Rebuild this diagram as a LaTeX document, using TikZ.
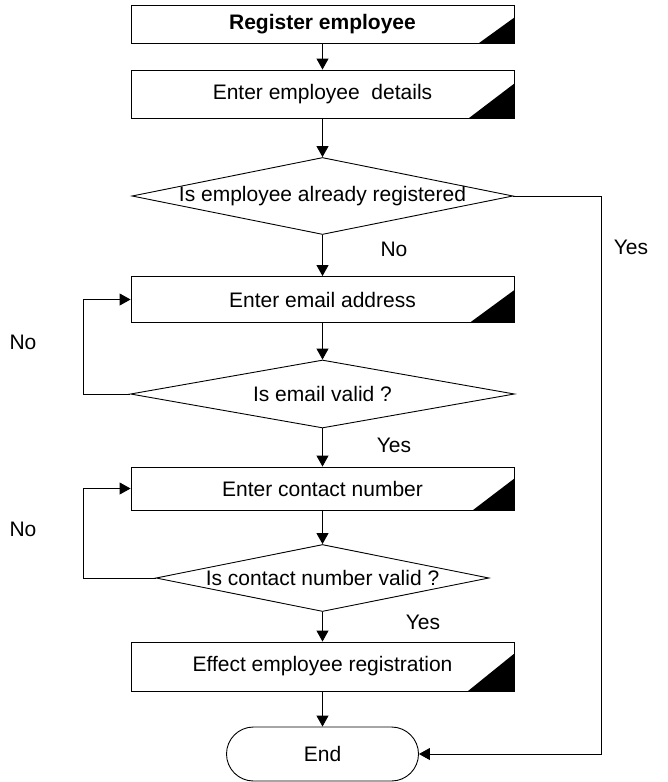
\documentclass[tikz,border=0pt]{standalone}
\usepackage{fontspec}
\setmainfont{Liberation Sans}
\usetikzlibrary{arrows.meta,shapes.geometric}

\begin{document}
\begin{tikzpicture}[x=1pt,y=-1pt,font=\fontsize{21}{25}\selectfont,>={Triangle[width=12pt,length=11pt]},line width=0.9pt,
  box/.style={draw,rectangle,minimum width=383pt,inner sep=0pt},
  dec/.style={draw,diamond,inner sep=0pt},
  term/.style={draw,rectangle,rounded corners=27pt,minimum width=192pt,minimum height=54pt}]
\useasboundingbox (0,0) rectangle (667,782);
% process steps
\node[box,minimum height=38pt,font=\fontsize{21}{25}\selectfont\bfseries] (reg) at (322.5,24) {Register employee};
\node[box,minimum height=48pt] (det) at (322.5,94) {Enter employee\ \ details};
\node[dec,minimum width=381pt,minimum height=77pt,label=center:{Is employee already registered}] (q1) at (322.5,196) {};
\node[box,minimum height=46pt] (email) at (322.5,299.5) {Enter email address};
\node[dec,minimum width=384pt,minimum height=68pt,label=center:{Is email valid ?}] (q2) at (322.5,394) {};
\node[box,minimum height=43pt] (contact) at (322.5,488.5) {Enter contact number};
\node[dec,minimum width=333pt,minimum height=67pt,label=center:{Is contact number valid ?}] (q3) at (322.5,578) {};
\node[box,minimum height=49pt] (eff) at (322.5,666.5) {Effect employee registration};
\node[term] (endn) at (322.5,754) {End};
% black corners
\foreach \n/\w/\h in {reg/36/26,det/46/35,email/45/33,contact/42/32,eff/47/38}
  \fill ([xshift=-\w pt]\n.south east) -- (\n.south east) -- ([yshift=\h pt]\n.south east) -- cycle;
% flow
\coordinate (lx) at (83,0);
\coordinate (rx) at (601,0);
\draw[->] (reg) -- (det);
\draw[->] (det) -- (q1);
\draw[->] (q1) -- (email);
\draw[->] (email) -- (q2);
\draw[->] (q2) -- (contact);
\draw[->] (contact) -- (q3);
\draw[->] (q3) -- (eff);
\draw[->] (eff) -- (endn);
\draw[->] (q2.west) -- (q2.west -| lx) |- (email.west);
\draw[->] (q3.west) -- (q3.west -| lx) |- (contact.west);
\draw[->] (q1.east) -- (q1.east -| rx) |- (endn.east);
% labels
\node (no1) at (394,249) {No};
\node (yes1) at (631,247) {Yes};
\node (no2) at (23,342) {No};
\node (yes2) at (394,445) {Yes};
\node (no3) at (23,529) {No};
\node (yes3) at (423,622) {Yes};
\end{tikzpicture}
\end{document}
